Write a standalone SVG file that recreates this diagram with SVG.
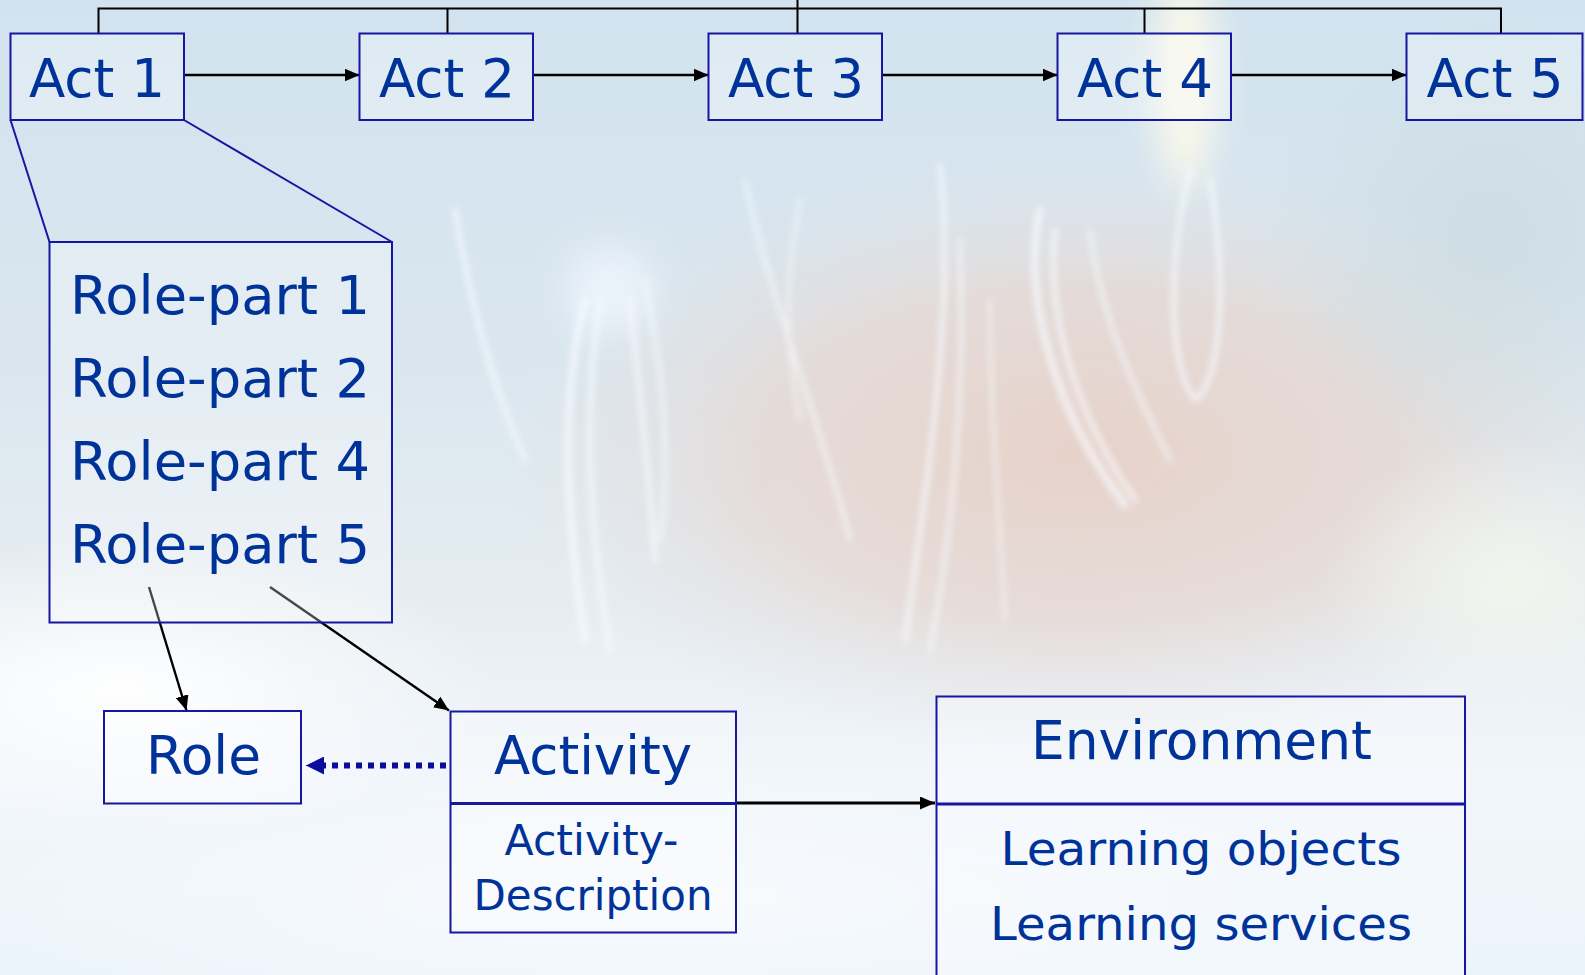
<svg xmlns="http://www.w3.org/2000/svg" width="1585" height="975" viewBox="0 0 1585 975">
  <defs>
    <linearGradient id="sky" x1="0" y1="0" x2="0" y2="1">
      <stop offset="0" stop-color="#d2e3ef"/>
      <stop offset="0.35" stop-color="#d9e6ef"/>
      <stop offset="0.62" stop-color="#e6edf2"/>
      <stop offset="0.8" stop-color="#f1f6fb"/>
      <stop offset="1" stop-color="#ecf4fb"/>
    </linearGradient>
    <radialGradient id="warm" cx="0.5" cy="0.5" r="0.5">
      <stop offset="0" stop-color="#e7d2c9" stop-opacity="1"/>
      <stop offset="0.55" stop-color="#e6d8d3" stop-opacity="0.8"/>
      <stop offset="1" stop-color="#e4e2e4" stop-opacity="0"/>
    </radialGradient>
    <radialGradient id="haze" cx="0.5" cy="0.5" r="0.5">
      <stop offset="0" stop-color="#ffffff" stop-opacity="0.95"/>
      <stop offset="1" stop-color="#ffffff" stop-opacity="0"/>
    </radialGradient>
    <radialGradient id="cream" cx="0.5" cy="0.5" r="0.5">
      <stop offset="0" stop-color="#f3f6ee" stop-opacity="0.9"/>
      <stop offset="1" stop-color="#f3f6ee" stop-opacity="0"/>
    </radialGradient>
    <radialGradient id="steel" cx="0.5" cy="0.5" r="0.5">
      <stop offset="0" stop-color="#cadade" stop-opacity="0.7"/>
      <stop offset="1" stop-color="#cadade" stop-opacity="0"/>
    </radialGradient>
    <filter id="soft" x="-50%" y="-50%" width="200%" height="200%">
      <feGaussianBlur stdDeviation="18"/>
    </filter>
    <filter id="glow" x="-50%" y="-20%" width="200%" height="140%">
      <feGaussianBlur stdDeviation="3"/>
    </filter>
    <marker id="head" viewBox="0 0 15 13" refX="15" refY="6.5" markerWidth="15" markerHeight="13" markerUnits="userSpaceOnUse" orient="auto">
      <path d="M0,0 L15,6.5 L0,13 Z" fill="#000"/>
    </marker>
    <marker id="headBlue" viewBox="0 0 18 18" refX="18" refY="9" markerWidth="18" markerHeight="18" markerUnits="userSpaceOnUse" orient="auto">
      <path d="M0,0 L18,9 L0,18 Z" fill="#0c0c9c"/>
    </marker>
  </defs>

  <style>
    .box { fill: #ffffff; fill-opacity: 0.28; stroke: #1616a2; stroke-width: 2; }
    .sep { stroke: #1616a2; stroke-width: 3; fill: none; }
    .lbl { font-family: "DejaVu Sans", Verdana, sans-serif; fill: #003399; text-anchor: middle; }
    .left { text-anchor: start; }
    .big { font-size: 54px; }
    .mid { font-size: 43px; }
    .env { font-size: 47px; }
    .wire { stroke: #000; stroke-width: 2; fill: none; }
    .link { stroke: #000; stroke-width: 2.4; fill: none; marker-end: url(#head); }
    .zoom { stroke: #1616a2; stroke-width: 2; fill: none; }
    .streak { fill: none; stroke: #f7fbff; stroke-linecap: round; filter: url(#glow); }
  </style>

  <!-- backdrop: pale sky with a warm light smear and light trails -->
  <g id="backdrop">
    <rect x="0" y="0" width="1585" height="975" fill="url(#sky)"/>
    <ellipse cx="1080" cy="455" rx="580" ry="300" fill="url(#warm)"/>
    <ellipse cx="1490" cy="240" rx="230" ry="220" fill="url(#steel)"/>
    <ellipse cx="120" cy="690" rx="380" ry="150" fill="url(#haze)"/>
    <ellipse cx="1510" cy="580" rx="190" ry="140" fill="url(#cream)"/>
    <ellipse cx="650" cy="900" rx="700" ry="140" fill="url(#haze)" opacity="0.6"/>
    <ellipse cx="1185" cy="80" rx="30" ry="110" fill="#fffbea" opacity="0.9" filter="url(#soft)"/>
    <ellipse cx="610" cy="290" rx="45" ry="45" fill="#f3f8ff" opacity="0.7" filter="url(#soft)"/>
    <g class="streak" opacity="0.75">
      <path d="M455,210 C470,300 490,380 525,460" stroke-width="5"/>
      <path d="M585,300 C565,380 560,480 585,640" stroke-width="7"/>
      <path d="M600,300 C585,400 585,500 610,650" stroke-width="5"/>
      <path d="M630,300 C640,400 650,480 655,560" stroke-width="5"/>
      <path d="M645,280 C665,380 670,470 660,540" stroke-width="4"/>
      <path d="M745,180 C770,300 820,420 850,540" stroke-width="4"/>
      <path d="M800,200 C790,260 780,320 800,420" stroke-width="3"/>
      <path d="M940,165 C955,300 930,460 905,640" stroke-width="5"/>
      <path d="M960,240 C965,380 955,520 930,650" stroke-width="4"/>
      <path d="M990,300 C990,420 1000,520 1005,620" stroke-width="3"/>
      <path d="M1040,210 C1020,300 1060,420 1125,505" stroke-width="7"/>
      <path d="M1055,230 C1045,320 1080,420 1135,500" stroke-width="5"/>
      <path d="M1090,230 C1100,320 1140,400 1170,460" stroke-width="4"/>
      <path d="M1190,170 C1170,250 1165,360 1195,400 C1225,380 1225,260 1210,180" stroke-width="5"/>
    </g>
  </g>

  <!-- connectors -->
  <g id="connectors">
    <!-- sequence bus above the acts -->
    <path class="wire" d="M98.5,33 V8.5 H1501 V33"/>
    <path class="wire" d="M447.5,8.5 V33 M797.5,0 V33 M1144.5,8.5 V33"/>
    <!-- act to act -->
    <line class="link" x1="184" y1="75" x2="359.5" y2="75"/>
    <line class="link" x1="533" y1="75" x2="708.5" y2="75"/>
    <line class="link" x1="882" y1="75" x2="1057.5" y2="75"/>
    <line class="link" x1="1231" y1="75" x2="1406.5" y2="75"/>
    <!-- Act 1 expanded into its role-parts -->
    <line class="zoom" x1="10.5" y1="120" x2="49.5" y2="242"/>
    <line class="zoom" x1="184" y1="120" x2="392" y2="242"/>
    <!-- role-part to role / activity -->
    <line class="link" x1="149" y1="587" x2="186.5" y2="710.5"/>
    <line class="link" x1="270" y1="587" x2="449" y2="710.5"/>
    <!-- activity refers to role -->
    <line x1="446" y1="765.5" x2="322" y2="765.5" stroke="#0c0c9c" stroke-width="6" stroke-dasharray="6 6"/>
    <line x1="324" y1="765.5" x2="306" y2="765.5" stroke="#0c0c9c" stroke-width="1" marker-end="url(#headBlue)"/>
    <!-- activity to environment -->
    <line x1="736" y1="803" x2="935" y2="803" stroke="#000" stroke-width="3" marker-end="url(#head)"/>
  </g>

  <!-- acts -->
  <g id="act1">
    <rect class="box" x="10.5" y="33.5" width="173.5" height="86.5"/>
    <text class="lbl big" x="97" y="97" textLength="136" lengthAdjust="spacingAndGlyphs">Act 1</text>
  </g>
  <g id="act2">
    <rect class="box" x="359.5" y="33.5" width="173.5" height="86.5"/>
    <text class="lbl big" x="447" y="97" textLength="136" lengthAdjust="spacingAndGlyphs">Act 2</text>
  </g>
  <g id="act3">
    <rect class="box" x="708.5" y="33.5" width="173.5" height="86.5"/>
    <text class="lbl big" x="796" y="97" textLength="136" lengthAdjust="spacingAndGlyphs">Act 3</text>
  </g>
  <g id="act4">
    <rect class="box" x="1057.5" y="33.5" width="173.5" height="86.5"/>
    <text class="lbl big" x="1145" y="97" textLength="136" lengthAdjust="spacingAndGlyphs">Act 4</text>
  </g>
  <g id="act5">
    <rect class="box" x="1406.5" y="33.5" width="176" height="86.5"/>
    <text class="lbl big" x="1495" y="97" textLength="137" lengthAdjust="spacingAndGlyphs">Act 5</text>
  </g>

  <!-- role-parts of Act 1 -->
  <g id="role-parts">
    <rect class="box" x="49.5" y="242" width="342.5" height="380.5"/>
    <text class="lbl big left" x="70" y="314" textLength="300" lengthAdjust="spacingAndGlyphs">Role-part 1</text>
    <text class="lbl big left" x="70" y="397" textLength="300" lengthAdjust="spacingAndGlyphs">Role-part 2</text>
    <text class="lbl big left" x="70" y="480" textLength="300" lengthAdjust="spacingAndGlyphs">Role-part 4</text>
    <text class="lbl big left" x="70" y="563" textLength="300" lengthAdjust="spacingAndGlyphs">Role-part 5</text>
  </g>

  <g id="role">
    <rect class="box" x="104" y="711" width="197" height="92.5"/>
    <text class="lbl big" x="203.5" y="773.5" textLength="115" lengthAdjust="spacingAndGlyphs">Role</text>
  </g>

  <g id="activity">
    <rect class="box" x="450.5" y="711.5" width="285.5" height="221"/>
    <line class="sep" x1="450.5" y1="803.5" x2="736" y2="803.5"/>
    <text class="lbl big" x="593" y="773.5" textLength="198" lengthAdjust="spacingAndGlyphs">Activity</text>
    <text class="lbl mid" x="591.5" y="855" textLength="174" lengthAdjust="spacingAndGlyphs">Activity-</text>
    <text class="lbl mid" x="593" y="910" textLength="239" lengthAdjust="spacingAndGlyphs">Description</text>
  </g>

  <g id="environment">
    <rect class="box" x="936.5" y="696.5" width="528.5" height="300"/>
    <line class="sep" x1="936.5" y1="804" x2="1465" y2="804"/>
    <text class="lbl big" x="1201.5" y="758.5" textLength="341" lengthAdjust="spacingAndGlyphs">Environment</text>
    <text class="lbl env" x="1201" y="865" textLength="401" lengthAdjust="spacingAndGlyphs">Learning objects</text>
    <text class="lbl env" x="1201" y="940" textLength="422" lengthAdjust="spacingAndGlyphs">Learning services</text>
  </g>
</svg>
